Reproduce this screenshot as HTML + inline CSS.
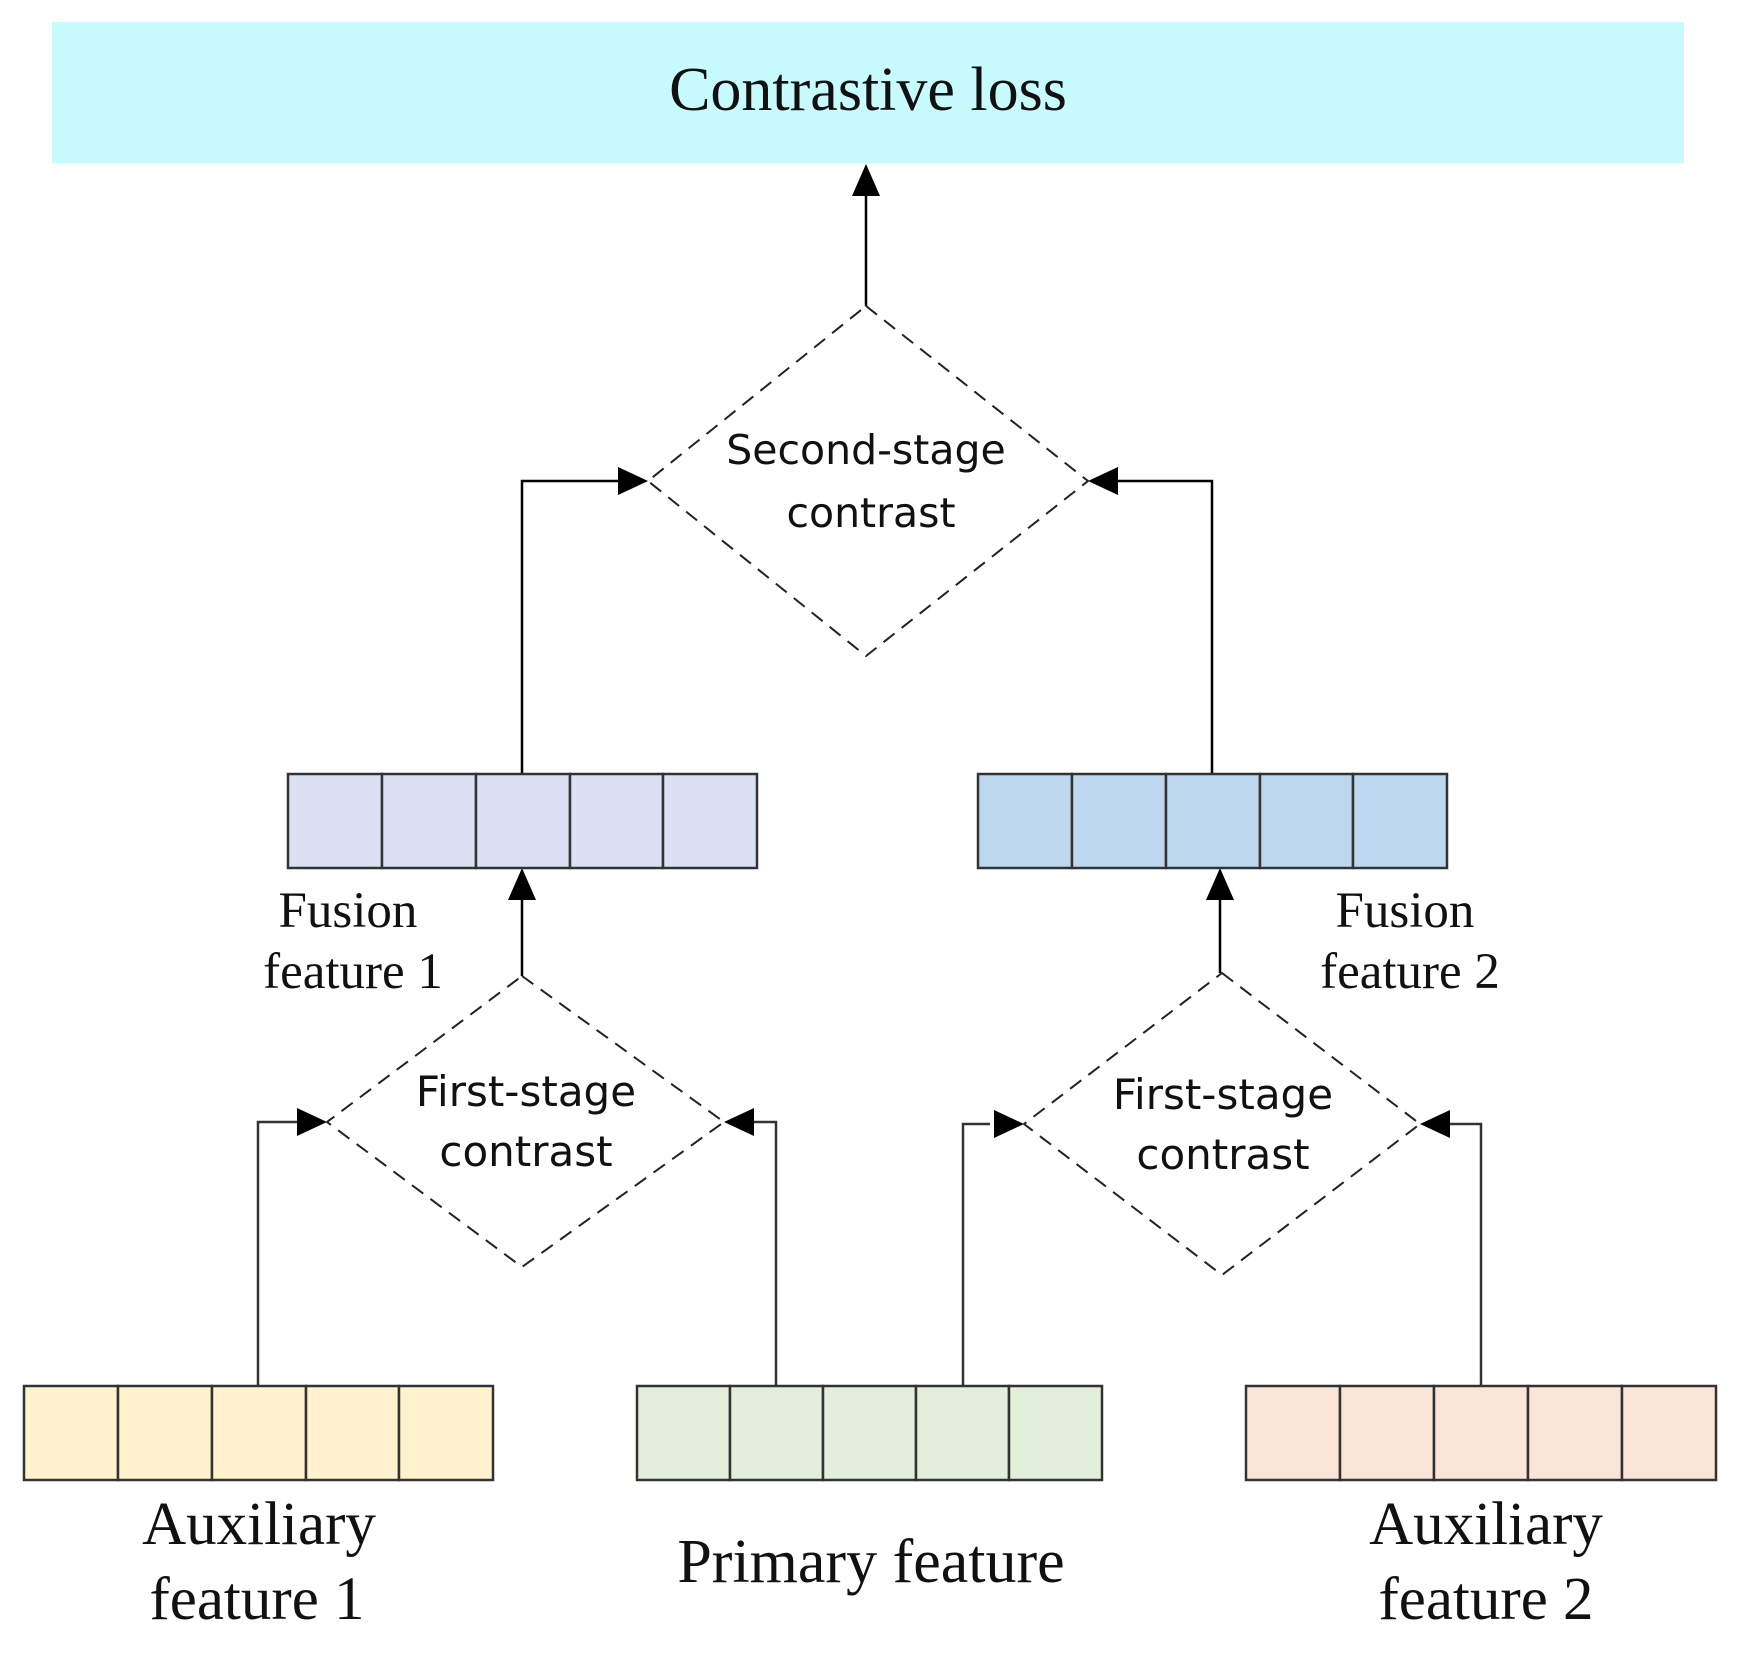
<!DOCTYPE html>
<html><head><meta charset="utf-8"><style>
html,body{margin:0;padding:0;background:#fff;}
svg{display:block;}
.serif{font-family:"Liberation Serif",serif;fill:#111;}
.sans{font-family:"DejaVu Sans","Liberation Sans",sans-serif;fill:#111;}
</style></head><body>
<svg width="1741" height="1656" viewBox="0 0 1741 1656" xmlns="http://www.w3.org/2000/svg">
<rect x="52" y="22" width="1632" height="141" fill="#c8fbfd"/>
<text x="868" y="110" class="serif" font-size="62" text-anchor="middle">Contrastive loss</text>

<g stroke="#000" stroke-width="2.5" fill="none">
<line x1="866" y1="306" x2="866" y2="190"/>
<polyline points="522,774 522,481 620,481"/>
<polyline points="1212,774 1212,481 1115,481"/>
<line x1="522" y1="976" x2="522" y2="900"/>
<line x1="1220" y1="973" x2="1220" y2="900"/>
</g>
<g stroke="#333" stroke-width="2.5" fill="none">
<polyline points="258,1386 258,1122 300,1122"/>
<polyline points="776,1386 776,1122 750,1122"/>
<polyline points="963,1386 963,1124 990,1124"/>
<polyline points="1481,1386 1481,1124 1450,1124"/>
</g>
<g fill="#000">
<polygon points="866,164 852,196 880,196"/>
<polygon points="648,481 618,467 618,495"/>
<polygon points="1088,481 1118,467 1118,495"/>
<polygon points="522,868 508,900 536,900"/>
<polygon points="1220,868 1206,900 1234,900"/>
<polygon points="327,1122 297,1108 297,1136"/>
<polygon points="724,1122 754,1108 754,1136"/>
<polygon points="1024,1124 994,1110 994,1138"/>
<polygon points="1420,1124 1450,1110 1450,1138"/>
</g>
<g stroke="#222" stroke-width="2" fill="none" stroke-dasharray="14,9">
<polygon points="866,306 1088,481 866,656 648,481"/>
<polygon points="522,976 724,1122 522,1267 327,1122"/>
<polygon points="1222,973 1420,1124 1222,1275 1024,1124"/>
</g>
<text x="866" y="464" class="sans" font-size="41" text-anchor="middle">Second-stage</text>
<text x="871" y="527" class="sans" font-size="41" text-anchor="middle">contrast</text>
<text x="526" y="1106" class="sans" font-size="42" text-anchor="middle">First-stage</text>
<text x="526" y="1166" class="sans" font-size="42" text-anchor="middle">contrast</text>
<text x="1223" y="1109" class="sans" font-size="42" text-anchor="middle">First-stage</text>
<text x="1223" y="1169" class="sans" font-size="42" text-anchor="middle">contrast</text>

<g stroke="#333" stroke-width="2.5">
<g fill="#d9e1f2">
<rect x="288" y="774" width="94" height="94"/><rect x="382" y="774" width="94" height="94"/><rect x="476" y="774" width="94" height="94"/><rect x="570" y="774" width="93" height="94"/><rect x="663" y="774" width="94" height="94"/>
</g>
<g fill="#bdd7ee">
<rect x="978" y="774" width="94" height="94"/><rect x="1072" y="774" width="94" height="94"/><rect x="1166" y="774" width="94" height="94"/><rect x="1260" y="774" width="93" height="94"/><rect x="1353" y="774" width="94" height="94"/>
</g>
<g fill="#fff2cc">
<rect x="24" y="1386" width="94" height="94"/><rect x="118" y="1386" width="94" height="94"/><rect x="212" y="1386" width="94" height="94"/><rect x="306" y="1386" width="93" height="94"/><rect x="399" y="1386" width="94" height="94"/>
</g>
<g fill="#e2efda">
<rect x="637" y="1386" width="93" height="94"/><rect x="730" y="1386" width="93" height="94"/><rect x="823" y="1386" width="93" height="94"/><rect x="916" y="1386" width="93" height="94"/><rect x="1009" y="1386" width="93" height="94"/>
</g>
<g fill="#fbe5d6">
<rect x="1246" y="1386" width="94" height="94"/><rect x="1340" y="1386" width="94" height="94"/><rect x="1434" y="1386" width="94" height="94"/><rect x="1528" y="1386" width="94" height="94"/><rect x="1622" y="1386" width="94" height="94"/>
</g>
</g>

<text x="348" y="927" class="serif" font-size="51" text-anchor="middle">Fusion</text>
<text x="353" y="988" class="serif" font-size="51" text-anchor="middle">feature 1</text>
<text x="1405" y="927" class="serif" font-size="51" text-anchor="middle">Fusion</text>
<text x="1410" y="988" class="serif" font-size="51" text-anchor="middle">feature 2</text>
<text x="259" y="1544" class="serif" font-size="61" text-anchor="middle">Auxiliary</text>
<text x="257" y="1619" class="serif" font-size="61" text-anchor="middle">feature 1</text>
<text x="871" y="1582" class="serif" font-size="62" text-anchor="middle">Primary feature</text>
<text x="1486" y="1544" class="serif" font-size="61" text-anchor="middle">Auxiliary</text>
<text x="1486" y="1619" class="serif" font-size="61" text-anchor="middle">feature 2</text>
</svg>
</body></html>
